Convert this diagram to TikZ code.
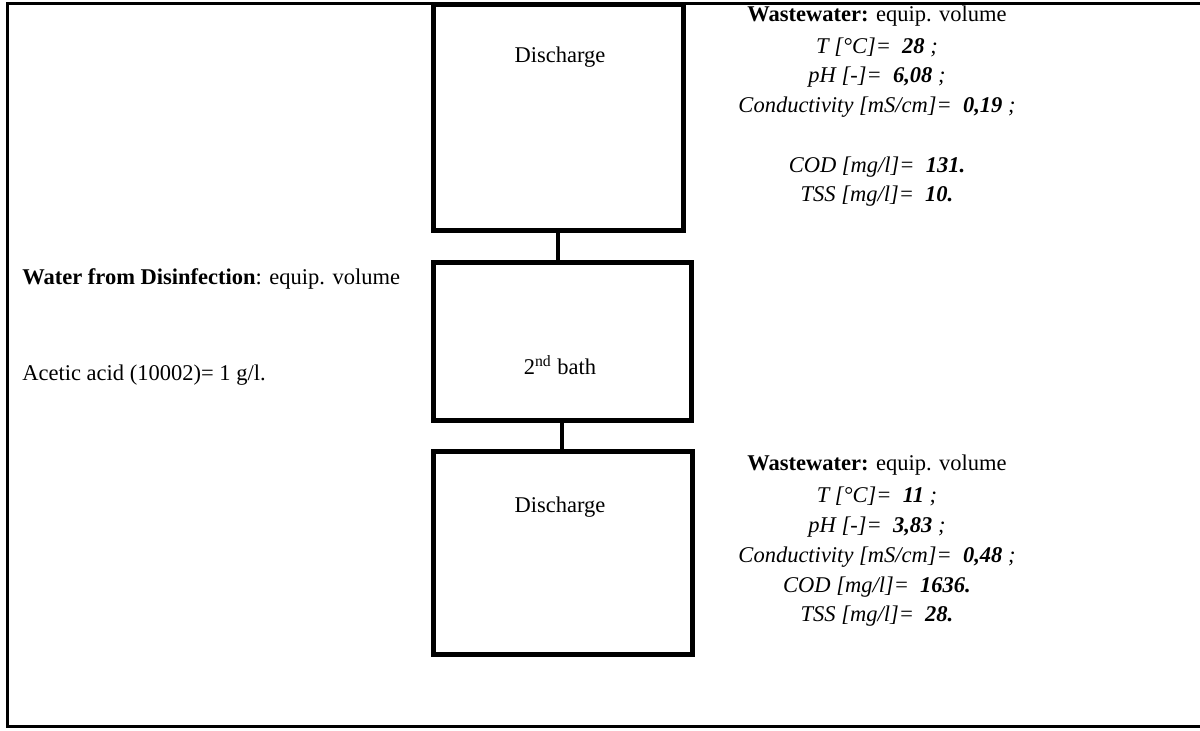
\documentclass[tikz,border=0pt]{standalone}
\usepackage{fontspec}
\setmainfont{Liberation Serif}
\begin{document}
\begin{tikzpicture}[x=0.5pt,y=-0.5pt,
  every node/.style={font=\fontsize{11.25pt}{13pt}\selectfont},
  boxnode/.style={draw, line width=2.5pt, inner sep=0pt, minimum width=#1},
  link/.style={line width=2pt},
  frameline/.style={line width=1.5pt},
  txt/.style={inner sep=0pt, anchor=center},
  ltxt/.style={inner sep=0pt, anchor=west}]
\useasboundingbox (0,0) rectangle (1200,731);
% outer frame (right side lies outside the picture)
\draw[frameline] (1205,3.5) -- (7.5,3.5) -- (7.5,727) -- (1205,727);
% boxes
\node[boxnode=250pt*0.5, minimum height=225.5*0.5pt] (b1) at (558,117.75) {};
\node[boxnode=258pt*0.5, minimum height=158*0.5pt] (b2) at (562,341.5) {};
\node[boxnode=259pt*0.5, minimum height=203.5*0.5pt] (b3) at (562.5,553.25) {};
\draw[link] (b1.south) -- (b1.south |- b2.north);
\draw[link] (b2.south) -- (b2.south |- b3.north);
% box labels
\node[txt] (l1) at (560,57) {Discharge};
\node[txt] (l2) at (560,365) {2\textsuperscript{nd} bath};
\node[txt] (l3) at (560,507) {Discharge};
% left texts
\node[ltxt] (w1) at (22,279) {\textbf{Water from Disinfection}: equip. volume};
\node[ltxt] (w2) at (22,375) {Acetic acid (10002)= 1 g/l.};
% right block 1
\node[txt] (a1) at (877,16) {\textbf{Wastewater:} equip. volume};
\node[txt] (a2) at (877,47) {\textit{T [°C]=\ \ \textbf{28} ;}};
\node[txt] (a3) at (877,77) {\textit{pH [-]=\ \ \textbf{6,08} ;}};
\node[txt] (a4) at (877,107) {\textit{Conductivity [mS/cm]=\ \ \textbf{0,19} ;}};
\node[txt] (a5) at (877,167) {\textit{COD [mg/l]=\ \ \textbf{131.}}};
\node[txt] (a6) at (877,196) {\textit{TSS [mg/l]=\ \ \textbf{10.}}};
% right block 2
\node[txt] (c1) at (877,465) {\textbf{Wastewater:} equip. volume};
\node[txt] (c2) at (877,496) {\textit{T [°C]=\ \ \textbf{11} ;}};
\node[txt] (c3) at (877,527) {\textit{pH [-]=\ \ \textbf{3,83} ;}};
\node[txt] (c4) at (877,557) {\textit{Conductivity [mS/cm]=\ \ \textbf{0,48} ;}};
\node[txt] (c5) at (877,587) {\textit{COD [mg/l]=\ \ \textbf{1636.}}};
\node[txt] (c6) at (877,616) {\textit{TSS [mg/l]=\ \ \textbf{28.}}};
\end{tikzpicture}
\end{document}
